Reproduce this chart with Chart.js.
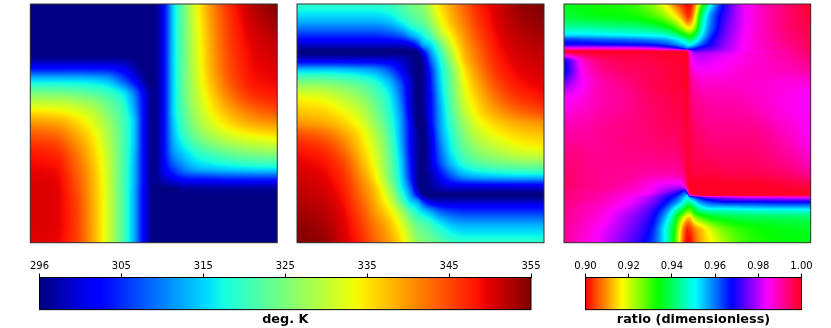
<!DOCTYPE html>
<html>
<head>
<meta charset="utf-8">
<style>
  html, body { margin: 0; padding: 0; background: #fff; }
  body { width: 831px; height: 328px; position: relative; overflow: hidden; }
  canvas { position: absolute; }
</style>
<script src="https://cdn.jsdelivr.net/npm/chart.js@4"></script>
</head>
<body>
<canvas id="panel1"></canvas>
<canvas id="panel2"></canvas>
<canvas id="panel3"></canvas>
<canvas id="tempBar"></canvas>
<canvas id="ratioBar"></canvas>
<script>
// values, x and y are percent of the panel (y from the top)
const panel1X = [0, 10, 18, 25, 31, 37, 42, 46, 49, 51, 54, 58, 63, 68, 74, 82, 91, 100];
const panel1Y = [0, 10, 18, 21, 26, 32, 38, 44, 50, 56, 62, 69, 74, 78, 82, 90, 100];
const panel1T = [
  [296,296,296,296,296,296,296,296,296, 297,303,316,326,334.4,341.5,348,352.5,355],
  [296,296,296,296,296,296,296,296,296, 297,303,316,325.8,333.5,340.5,347,351,353],
  [296,296,296,296,296,296,296,296,296, 297,303,316,325.6,333,340,346.5,350,351.5],
  [296,296,296,296,296,296,296,296,296, 297,303,316,325.5,332.8,339.8,346.2,349.7,351],
  [302,302,302,302,302,301,298,296,296, 297,303,316,325.4,332.5,339.5,345.8,349.3,350.3],
  [316,316,316,315.5,314,309,303,298,296, 297,303,316,325.2,332,338.5,345,348.7,349.5],
  [326,326,325,323.5,321.5,318,311,302,297, 297,303,316,325,331,337,343,347,348.3],
  [334,333.5,332,329.5,325.5,321,313,303,297, 297,303,316,324,330,335,340,343.6,345.5],
  [340.5,339.5,336.8,333,328,322.3,315,303,297, 297,303,315,322.8,328,332.5,336.5,339.3,340.5],
  [345,344,340,335.5,329.7,322.8,315,303,297, 297,303,314,320.5,325,328.5,331.5,333.5,334.5],
  [348,347,342.5,337,330.8,323,314.5,303,297, 297,303,312,316.5,320,322.5,325,326.7,327.5],
  [349.5,349,344.2,338.2,331.5,323,314,303,297, 297,302,307,311.5,314,315,316,316.7,317],
  [350.2,349.7,345,338.8,331.8,323,314,303,297, 297,299,301,303,303,303.5,304,304,304],
  [350.5,350,345.5,339,332,323,313.5,302.5,297, 296,296,296,297,297,297,297,297,297],
  [350.5,350,346,339.2,332.1,323,313.5,302.5,297, 296,296,296,296,296,296,296,296,296],
  [350.5,350,346.3,339.4,332.2,323,313.5,302.5,297, 296,296,296,296,296,296,296,296,296],
  [350,349.5,346.3,339.5,332.2,323,313.5,302.5,297, 296,296,296,296,296,296,296,296,296]
];

const panel2X = [0, 10, 18, 25, 31, 37, 42, 46, 49, 51, 54, 58, 63, 68, 74, 82, 91, 100];
const panel2Y = [0, 7, 13, 17, 20, 23, 28, 34, 40, 46, 50, 54, 60, 66, 72, 77, 80, 83, 87, 93, 100];
const panel2T = [
  [320,320,320,320,320,321,323,325,326, 327,331,336,340,344,348,351,354,355],
  [314,314,314,314,314,315,318,321,323, 324,327.5,333.3,338.5,342.5,346.8,350.5,353.2,354.3],
  [306,306,306,306,306,307,309,313,316, 318,322,329,335.5,340.7,345.5,349.8,352.2,353.3],
  [300,300,300,300,300,300,300,302,307, 313,316,324,333,339.5,344.5,349.2,351.6,352.6],
  [296,296,296,296,296,296,296,296,297, 303,312,321,331,338.6,343.6,348.7,351,352],
  [300,300,300,300,300,300,299,297,296, 298,309,318.5,329,337.8,343,348.2,350.6,351.6],
  [316,316,315.5,314.5,313,309,303,298,296, 297,305,316.5,326,335.5,341.5,347.2,349.8,350.8],
  [327.5,327,325.5,323.5,320.5,315.5,308,300,296, 297,304,315.5,325,333.5,339.5,345.5,348.6,349.8],
  [334.5,333.5,331,328,324,318.5,310,300,296, 297,303,314,324,332,337.5,343,346.5,348],
  [338,337,334.8,331.5,326.5,320,312,301,296, 297,303,313,322.5,330,335.5,339.7,342.8,344.5],
  [340.5,339.3,337,333.5,328,321.3,312.7,302.5,296, 296,302.5,312.7,321.3,328,333.5,337,339.3,340.5],
  [344.5,342.8,339.7,335.5,330,322.5,313,303,297, 296,301,312,320,326.5,331.5,334.8,337,338],
  [348,346.5,343,337.5,332,324,314,303,297, 296,300,310,318.5,324,328,331,333.5,334.5],
  [349.8,348.6,345.5,339.5,333.5,325,315.5,304,297, 296,300,308,315.5,320.5,323.5,325.5,327,327.5],
  [350.8,349.8,347.2,341.5,335.5,326,316.5,305,297, 296,298,303,309,313,314.5,315.5,316,316],
  [351.6,350.6,348.2,343,337.8,329,318.5,309,298, 296,297,299,300,300,300,300,300,300],
  [352,351,348.7,343.6,338.6,331,321,312,303, 297,296,296,296,296,296,296,296,296],
  [352.6,351.6,349.2,344.5,339.5,333,324,316,313, 307,302,300,300,300,300,300,300,300],
  [353.3,352.2,349.8,345.5,340.7,335.5,329,322,318, 316,313,309,307,306,306,306,306,306],
  [354.3,353.2,350.5,346.8,342.5,338.5,333.3,327.5,324, 323,321,318,315,314,314,314,314,314],
  [355,354,351,348,344,340,336,331,327, 326,325,323,321,320,320,320,320,320]
];

const panel3X = [0, 3, 8, 15, 25, 35, 41, 45, 47, 49, 50, 51, 53, 56, 60, 66, 75, 90, 100];
const panel3Y = [0, 5, 10, 13, 15, 17, 18.5, 20, 21, 24, 28, 33, 40, 55, 70, 76, 79, 80, 81, 83, 85, 87, 90, 95, 100];
const panel3R = [
  [.935,.935,.934,.932,.931,.925,.916,.908,.904,.901,.900,.900,.908,.930,.952,.971,.985,.994,.999],
  [.937,.937,.936,.935,.934,.930,.924,.917,.912,.906,.903,.904,.915,.942,.960,.973,.985,.994,.998],
  [.945,.945,.945,.944,.943,.941,.937,.931,.926,.920,.917,.917,.925,.948,.962,.975,.985,.994,.997],
  [.953,.953,.953,.952,.951,.950,.948,.943,.939,.935,.932,.931,.938,.952,.965,.976,.986,.993,.997],
  [.964,.964,.963,.962,.961,.959,.957,.953,.950,.946,.943,.941,.946,.957,.968,.977,.986,.993,.996],
  [.970,.970,.970,.969,.968,.967,.964,.960,.957,.954,.952,.950,.955,.963,.970,.978,.986,.992,.996],
  [.985,.985,.985,.985,.985,.982,.977,.972,.968,.963,.960,.962,.965,.970,.973,.979,.986,.992,.995],
  [.999,.999,.999,.999,.999,.999,.999,.999,.999,.999,.999,.985,.975,.976,.978,.981,.986,.991,.995],
  [.990,.993,.996,.998,.998,.998,.999,.999,.999,.999,.999,.988,.980,.980,.981,.983,.987,.991,.994],
  [.968,.975,.988,.994,.996,.997,.998,.998,.998,.999,.999,.990,.983,.982,.983,.985,.987,.990,.993],
  [.966,.974,.986,.992,.995,.996,.997,.998,.998,.999,.999,.992,.986,.985,.985,.986,.988,.989,.991],
  [.975,.979,.985,.990,.993,.996,.997,.998,.998,.999,.999,.994,.990,.988,.988,.988,.988,.987,.987],
  [.984,.985,.987,.990,.992,.995,.996,.997,.997,.998,.999,.995,.992,.991,.990,.990,.989,.986,.984],
  [.991,.991,.991,.992,.993,.994,.995,.995,.996,.997,.998,.997,.995,.994,.993,.993,.993,.989,.985],
  [.994,.994,.993,.992,.992,.991,.991,.991,.992,.995,.998,.998,.997,.997,.997,.996,.996,.994,.991],
  [.995,.994,.993,.992,.990,.986,.983,.982,.982,.988,.998,.999,.999,.999,.999,.999,.999,.998,.997],
  [.994,.993,.992,.991,.988,.984,.977,.972,.968,.962,.975,.999,.999,.999,.999,.999,.999,.999,.999],
  [.994,.993,.992,.990,.987,.982,.973,.968,.964,.958,.955,.985,.995,.999,.999,.999,.999,.999,.999],
  [.994,.993,.992,.990,.986,.979,.971,.965,.960,.954,.950,.958,.965,.972,.977,.980,.983,.984,.985],
  [.993,.992,.991,.989,.985,.977,.968,.960,.955,.948,.944,.945,.952,.960,.964,.967,.967,.968,.968],
  [.993,.992,.990,.988,.983,.974,.964,.953,.947,.939,.935,.934,.942,.951,.955,.955,.956,.957,.957],
  [.993,.991,.990,.987,.981,.972,.960,.946,.938,.930,.926,.926,.935,.941,.944,.945,.946,.947,.947],
  [.992,.991,.989,.986,.979,.970,.955,.938,.925,.916,.912,.912,.922,.928,.933,.936,.938,.939,.940],
  [.992,.990,.988,.984,.977,.967,.950,.932,.917,.905,.902,.903,.908,.913,.920,.927,.932,.935,.936],
  [.992,.990,.987,.983,.975,.965,.950,.930,.915,.903,.900,.900,.906,.912,.917,.924,.931,.934,.935]
];

const tempTicks = [296, 305.83, 315.67, 325.5, 335.33, 345.17, 355];
const tempLabels = ['296', '305', '315', '325', '335', '345', '355'];
const ratioTicks = [0.90, 0.92, 0.94, 0.96, 0.98, 1.00];
const ratioLabels = ['0.90', '0.92', '0.94', '0.96', '0.98', '1.00'];

// matplotlib jet and hsv segments
const jetSeg = [
  [[0,0],[.35,0],[.66,1],[.89,1],[1,.5]],
  [[0,0],[.125,0],[.375,1],[.64,1],[.91,0],[1,0]],
  [[0,.5],[.11,1],[.34,1],[.65,0],[1,0]]
];
const hsvSeg = [
  [[0,1],[.15873,1],[.174603,.96875],[.333333,.03125],[.349206,0],[.666667,0],[.68254,.03125],[.84127,.96875],[.857143,1],[1,1]],
  [[0,0],[.15873,.9375],[.174603,1],[.507937,1],[.666667,.0625],[.68254,0],[1,0]],
  [[0,0],[.333333,0],[.349206,.0625],[.507937,1],[.84127,1],[.857143,.9375],[1,.09375]]
];

function segValue(seg, t) {
  for (let i = 1; i < seg.length; i++) {
    if (t <= seg[i][0]) {
      const f = (t - seg[i-1][0]) / (seg[i][0] - seg[i-1][0]);
      return seg[i-1][1] + f * (seg[i][1] - seg[i-1][1]);
    }
  }
  return seg[seg.length-1][1];
}

function colorAt(segs, min, max, v) {
  const t = Math.min(1, Math.max(0, (v - min) / (max - min)));
  return segs.map(s => Math.round(segValue(s, t) * 255));
}

function cellIndex(list, v) {
  let i = 0;
  while (i < list.length - 2 && v > list[i+1]) i++;
  return i;
}

// slope at node i, 0 at a turning point so the shading never overshoots
function slopeAt(xs, vs, i) {
  if (i <= 0) return (vs[1] - vs[0]) / (xs[1] - xs[0]);
  const n = xs.length - 1;
  if (i >= n) return (vs[n] - vs[n-1]) / (xs[n] - xs[n-1]);
  const d0 = (vs[i] - vs[i-1]) / (xs[i] - xs[i-1]);
  const d1 = (vs[i+1] - vs[i]) / (xs[i+1] - xs[i]);
  if (d0 * d1 <= 0) return 0;
  return 2 * d0 * d1 / (d0 + d1);
}

function shade(xs, vs, i, x) {
  const h = xs[i+1] - xs[i];
  const t = Math.max(0, Math.min(1, (x - xs[i]) / h));
  const t2 = t * t, t3 = t2 * t;
  return (2*t3 - 3*t2 + 1) * vs[i] + (t3 - 2*t2 + t) * h * slopeAt(xs, vs, i)
    + (3*t2 - 2*t3) * vs[i+1] + (t3 - t2) * h * slopeAt(xs, vs, i+1);
}

// paints the grid, shaded between its nodes
const surfacePlugin = {
  id: 'surface',
  beforeDatasetsDraw(chart, args, opts) {
    const { ctx, chartArea: a, scales } = chart;
    const w = Math.ceil(a.right - a.left), h = Math.ceil(a.bottom - a.top);
    const off = document.createElement('canvas');
    off.width = w; off.height = h;
    const octx = off.getContext('2d');
    const img = octx.createImageData(w, h);
    const { xs, ys, vals } = opts;
    for (let px = 0; px < w; px++) {
      const xv = scales.x.getValueForPixel(a.left + px + 0.5);
      const i = cellIndex(xs, xv);
      const column = vals.map(row => shade(xs, row, i, xv));
      for (let py = 0; py < h; py++) {
        const yv = scales.y.getValueForPixel(a.top + py + 0.5);
        const c = colorAt(opts.segs, opts.min, opts.max, shade(ys, column, cellIndex(ys, yv), yv));
        const k = (py * w + px) * 4;
        img.data[k] = c[0]; img.data[k+1] = c[1]; img.data[k+2] = c[2]; img.data[k+3] = 255;
      }
    }
    octx.putImageData(img, 0, 0);
    ctx.drawImage(off, a.left, a.top, a.right - a.left, a.bottom - a.top);
  },
  afterDraw(chart) {
    const { ctx, chartArea: a } = chart;
    ctx.save();
    ctx.strokeStyle = '#333';
    ctx.lineWidth = 1;
    ctx.strokeRect(a.left, a.top, a.right - a.left, a.bottom - a.top);
    ctx.restore();
  }
};

const barPlugin = {
  id: 'colorbar',
  beforeDatasetsDraw(chart, args, opts) {
    const { ctx, chartArea: a, scales } = chart;
    for (let px = Math.floor(a.left); px < a.right; px++) {
      const c = colorAt(opts.segs, opts.min, opts.max, scales.x.getValueForPixel(px + 0.5));
      ctx.fillStyle = 'rgb(' + c.join(',') + ')';
      ctx.fillRect(px, a.top, 1, a.bottom - a.top);
    }
  },
  afterDraw(chart) {
    const { ctx, chartArea: a } = chart;
    ctx.save();
    ctx.strokeStyle = '#000';
    ctx.lineWidth = 1;
    ctx.strokeRect(a.left, a.top, a.right - a.left, a.bottom - a.top);
    ctx.restore();
  }
};

function drawPanel(id, left, w, padLeft, padRight, xs, ys, vals, segs, min, max) {
  const el = document.getElementById(id);
  el.style.left = left + 'px';
  el.style.top = '3px';
  el.width = w; el.height = 241;
  const points = [];
  ys.forEach((y, j) => xs.forEach((x, i) => points.push({ x: x, y: y, v: vals[j][i] })));
  new Chart(el, {
    type: 'scatter',
    data: { datasets: [{ data: points, pointRadius: 0 }] },
    options: {
      responsive: false,
      animation: false,
      layout: { padding: { left: padLeft, top: 1, right: padRight, bottom: 1.3 } },
      scales: {
        x: { type: 'linear', display: false, min: 0, max: 100 },
        y: { type: 'linear', display: false, min: 0, max: 100, reverse: true }
      },
      plugins: {
        legend: { display: false },
        tooltip: { enabled: false },
        surface: { xs: xs, ys: ys, vals: vals, segs: segs, min: min, max: max }
      }
    },
    plugins: [surfacePlugin]
  });
}

function drawBar(id, left, w, padLeft, padRight, ticks, labels, title, segs) {
  const el = document.getElementById(id);
  el.style.left = left + 'px';
  el.style.top = '250px';
  el.width = w; el.height = 78;
  const min = ticks[0], max = ticks[ticks.length-1];
  new Chart(el, {
    type: 'scatter',
    data: { datasets: [{ data: ticks.map(t => ({ x: t, y: 0 })), pointRadius: 0 }] },
    options: {
      responsive: false,
      animation: false,
      layout: { padding: { left: padLeft, right: padRight, top: 0, bottom: 0 } },
      scales: {
        x: {
          type: 'linear',
          position: 'top',
          min: min,
          max: max,
          afterBuildTicks: s => { s.ticks = ticks.map(v => ({ value: v })); },
          afterFit: s => { s.height = 27.5; },
          grid: { drawOnChartArea: false, drawTicks: true, tickLength: 4, color: '#000' },
          border: { color: '#000' },
          ticks: {
            autoSkip: false,
            maxRotation: 0,
            padding: 1.5,
            color: '#000',
            font: { family: 'DejaVu Sans', size: 10 },
            callback: (v, i) => labels[i]
          }
        },
        y: { type: 'linear', display: false, min: -1, max: 1 }
      },
      plugins: {
        legend: { display: false },
        tooltip: { enabled: false },
        title: {
          display: true,
          text: title,
          position: 'bottom',
          color: '#000',
          padding: { top: 2, bottom: 1 },
          font: { family: 'DejaVu Sans', size: 12.8, weight: 'bold' }
        },
        colorbar: { segs: segs, min: min, max: max }
      }
    },
    plugins: [barPlugin]
  });
}

drawPanel('panel1', 29, 249, 1.3, 0.7, panel1X, panel1Y, panel1T, jetSeg, 296, 355);
drawPanel('panel2', 296, 249, 1, 1, panel2X, panel2Y, panel2T, jetSeg, 296, 355);
drawPanel('panel3', 563, 249, 1, 1.3, panel3X, panel3Y, panel3R, hsvSeg, 0.9, 1.0);
drawBar('tempBar', 0, 560, 39.5, 29, tempTicks, tempLabels, 'deg. K', jetSeg);
drawBar('ratioBar', 560, 271, 25.5, 29.5, ratioTicks, ratioLabels, 'ratio (dimensionless)', hsvSeg);
</script>
</body>
</html>
